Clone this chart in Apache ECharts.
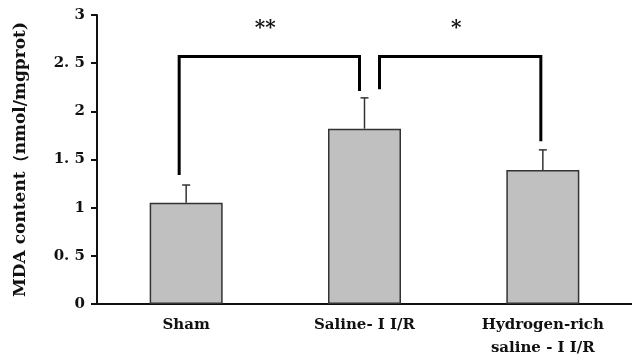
<!DOCTYPE html>
<html>
<head>
<meta charset="utf-8">
<script src="https://cdn.jsdelivr.net/npm/echarts@6/dist/echarts.min.js"></script>
<style>
html,body{margin:0;padding:0;background:#fff;}
#chart{width:632px;height:360px;}
</style>
</head>
<body>
<div id="chart"></div>
<script>
var categories = ['Sham', 'Saline- I I/R', 'Hydrogen-rich\nsaline - I I/R'];
var meanValues = [1.05, 1.82, 1.39];
var errorUpper = [1.235, 2.14, 1.60];
var yTickLabels = ['0', '0. 5', '1', '1. 5', '2', '2. 5', '3'];
var bracketFrom = [0, 1];
var bracketTo = [1, 2];
var bracketLeftEnd = [1.34, 2.23];
var bracketRightEnd = [2.21, 1.69];
var bracketTop = [2.57, 2.57];
var bracketLabel = ['**', '*'];

var FONT = 'DejaVu Serif';
var legOffsets = [[-7, -5], [15, -2]];

var chart = echarts.init(document.getElementById('chart'), null, {renderer: 'canvas'});

var errorData = categories.map(function (c, i) { return [i, meanValues[i], errorUpper[i]]; });
var bracketData = bracketFrom.map(function (f, k) {
  return [f, bracketTo[k], bracketLeftEnd[k], bracketRightEnd[k], bracketTop[k], k];
});

chart.setOption({
  backgroundColor: '#ffffff',
  animation: false,
  grid: {left: 97, right: 0, top: 15, bottom: 51, containLabel: false},
  xAxis: {
    type: 'category',
    data: categories,
    axisLine: {show: true, lineStyle: {color: '#111', width: 2}},
    axisTick: {show: false},
    axisLabel: {
      color: '#111', fontFamily: FONT, fontWeight: 'bold', fontSize: 15,
      margin: 10, lineHeight: 23, interval: 0
    }
  },
  yAxis: {
    type: 'value',
    min: 0, max: 3, interval: 0.5,
    name: 'MDA content（nmol/mgprot)',
    nameLocation: 'middle',
    nameGap: 68,
    nameTextStyle: {color: '#111', fontFamily: FONT, fontWeight: 'bold', fontSize: 17},
    axisLine: {show: true, lineStyle: {color: '#111', width: 2}},
    axisTick: {show: true, length: 6, lineStyle: {color: '#111', width: 2}},
    splitLine: {show: false},
    axisLabel: {
      color: '#111', fontFamily: FONT, fontWeight: 'bold', fontSize: 15, margin: 12,
      formatter: function (v) { return yTickLabels[Math.round(v * 2)]; }
    }
  },
  series: [
    {
      type: 'bar',
      data: meanValues,
      barWidth: 73,
      itemStyle: {color: '#c0c0c0', borderColor: '#333', borderWidth: 1.5},
      z: 2
    },
    {
      type: 'custom',
      data: errorData,
      z: 3,
      renderItem: function (params, api) {
        var x = api.value(0);
        var lo = api.coord([x, api.value(1)]);
        var hi = api.coord([x, api.value(2)]);
        var cw = 4;
        var st = {stroke: '#333', lineWidth: 1.5};
        return {
          type: 'group',
          children: [
            {type: 'line', shape: {x1: lo[0], y1: lo[1], x2: hi[0], y2: hi[1]}, style: st},
            {type: 'line', shape: {x1: hi[0] - cw, y1: hi[1], x2: hi[0] + cw, y2: hi[1]}, style: st}
          ]
        };
      }
    },
    {
      type: 'custom',
      data: bracketData,
      z: 4,
      renderItem: function (params, api) {
        var k = api.value(5);
        var a = api.coord([api.value(0), api.value(2)]);
        var b = api.coord([api.value(1), api.value(3)]);
        var t = api.coord([api.value(0), api.value(4)]);
        var xa = a[0] + legOffsets[k][0];
        var xb = b[0] + legOffsets[k][1];
        var st = {stroke: '#000', lineWidth: 3, fill: null, lineJoin: 'miter'};
        return {
          type: 'group',
          children: [
            {type: 'polyline', shape: {points: [[xa, a[1]], [xa, t[1]], [xb, t[1]], [xb, b[1]]]}, style: st},
            {type: 'text', style: {
              text: bracketLabel[k], x: (xa + xb) / 2 - 4, y: t[1] - 28,
              fill: '#111', font: 'bold 20px "DejaVu Serif"', textAlign: 'center', textVerticalAlign: 'middle'
            }}
          ]
        };
      }
    }
  ]
});
</script>
</body>
</html>
